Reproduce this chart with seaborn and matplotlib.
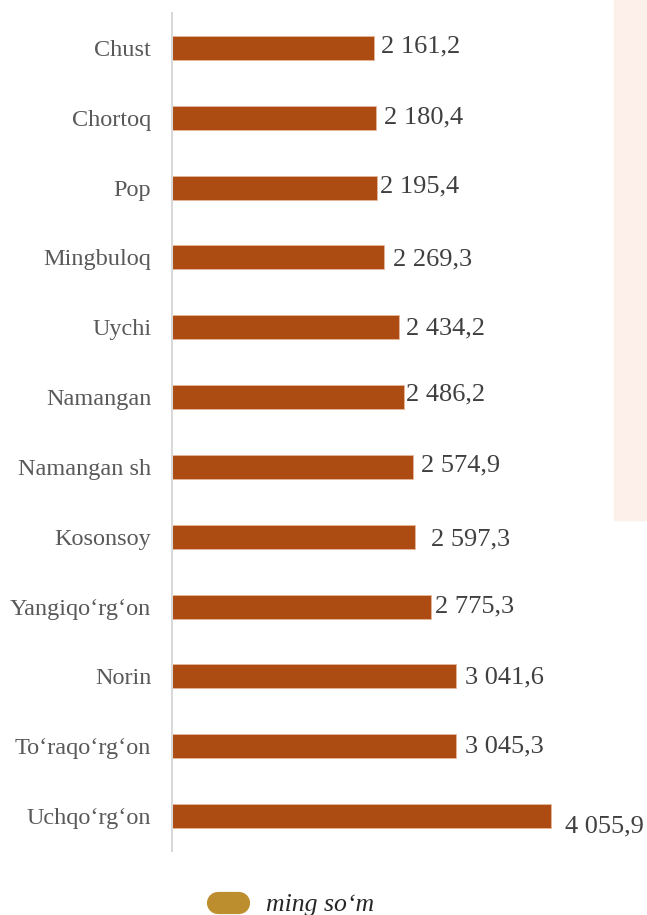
import matplotlib
matplotlib.use("Agg")
import matplotlib.pyplot as plt
import matplotlib.patches as mpatches
from matplotlib.lines import Line2D
import seaborn as sns

districts = ["Chust", "Chortoq", "Pop", "Mingbuloq", "Uychi", "Namangan",
             "Namangan sh", "Kosonsoy", "Yangiqo\u2018rg\u2018on", "Norin",
             "To\u2018raqo\u2018rg\u2018on", "Uchqo\u2018rg\u2018on"]
values = [2161.2, 2180.4, 2195.4, 2269.3, 2434.2, 2486.2,
          2574.9, 2597.3, 2775.3, 3041.6, 3045.3, 4055.9]
value_labels = ["2 161,2", "2 180,4", "2 195,4", "2 269,3", "2 434,2", "2 486,2",
                "2 574,9", "2 597,3", "2 775,3", "3 041,6", "3 045,3", "4 055,9"]
legend_label = "ming so\u2018m"

# label nudges in pixels (as placed in the original)
dx = [7, 8, 3, 9, 7, 2, 8, 16, 4, 9, 9, 14]
dy = [1, 0, 1, -2, -1, 3, 1, -3, 0, -1, 0, -10]

bar_color = "#AD4C12"
sns.set_style("white")
plt.rcParams['font.family'] = ['Liberation Serif', 'DejaVu Serif']

fig = plt.figure(figsize=(6.47, 9.15), dpi=100)
fig.patches.append(mpatches.Rectangle((614 / 647, 1 - 520 / 915), 33 / 647, 520 / 915,
                                      transform=fig.transFigure, color="#FDF0EB", zorder=0))
ax = fig.add_axes([172 / 647, 1 - 851 / 915, 475 / 647, 838 / 915])
ax.patch.set_alpha(0)

sns.barplot(x=values, y=districts, color=bar_color, width=0.345, ax=ax,
            edgecolor="#E8B89A", linewidth=0.6, saturation=1)

for i, (v, lab) in enumerate(zip(values, value_labels)):
    ax.annotate(lab, xy=(v, i), xytext=(dx[i], dy[i]), textcoords="offset pixels",
                ha="left", va="center", fontsize=19, color="#404040")

ax.set_xlim(0, 5085)
ax.set_ylim(11.5, -0.5)
ax.set_xticks([])
ax.set_xlabel("")
ax.set_ylabel("")
ax.tick_params(axis="y", length=0, pad=15, labelsize=17.5, labelcolor="#595959")
for s in ["top", "right", "bottom"]:
    ax.spines[s].set_visible(False)
ax.spines["left"].set_color("#D9D9D9")
ax.spines["left"].set_linewidth(1.5)

handle = Line2D([0], [0], color="#BC8E2E", lw=16, solid_capstyle="round")
fig.legend([handle], [legend_label], loc="center left",
           bbox_to_anchor=(195 / 647, 1 - 905 / 915), frameon=False,
           handlelength=0.8, handletextpad=1.05,
           prop={"family": "Liberation Serif", "style": "italic", "size": 18.5})

fig.savefig("out.png", dpi=100)
